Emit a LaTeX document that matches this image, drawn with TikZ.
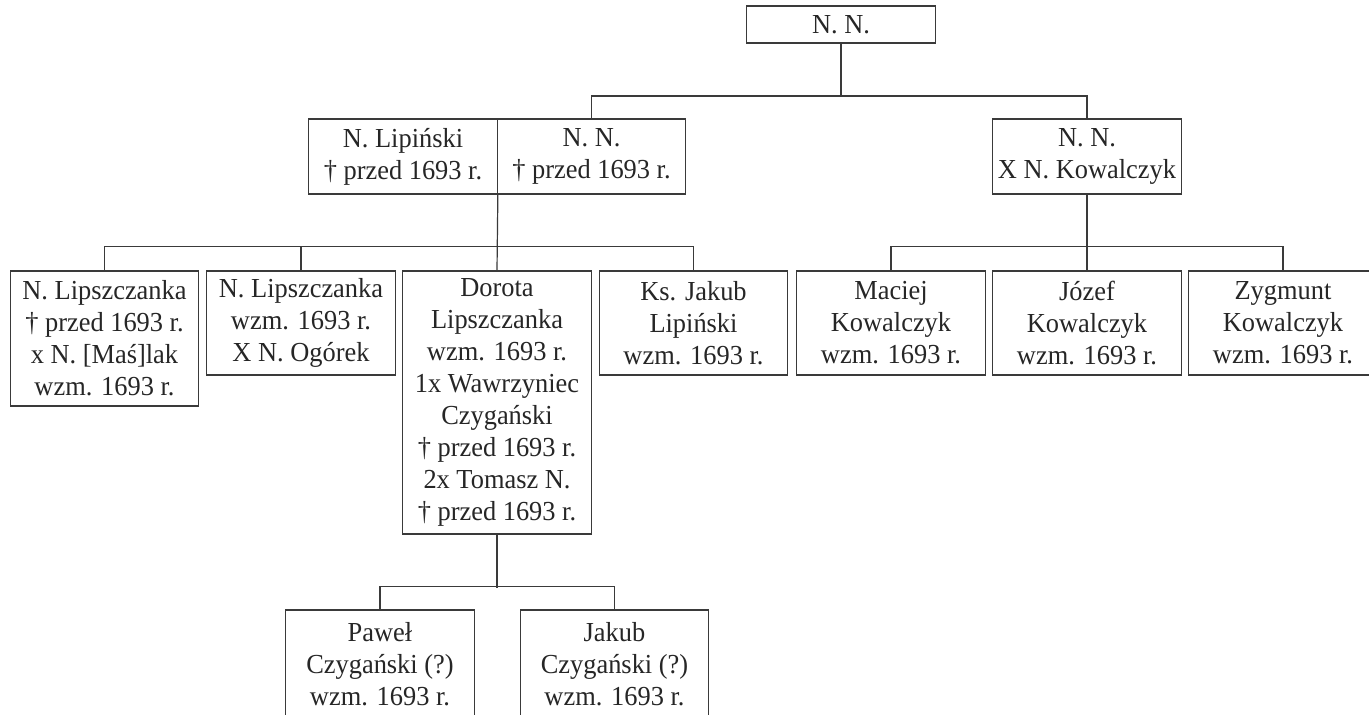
\documentclass[tikz,border=0pt]{standalone}
\usepackage{fontspec}
\setmainfont{Liberation Serif}[FakeStretch=0.96]
\definecolor{linec}{HTML}{3A3A3A}
\definecolor{textc}{HTML}{262626}
\begin{document}
\begin{tikzpicture}[x=1pt,y=-1pt,
  person/.style={draw=linec, line width=1.2pt, fill=white, inner sep=0pt,
    minimum width=188.5pt, align=center, text=textc,
    font={\fontsize{27.5}{32}\selectfont}},
  conn/.style={draw=linec, line width=1.2pt}]
\useasboundingbox[fill=white] (0,0) rectangle (1369,715);
\clip (0,0) rectangle (1369,715);
% generation 0
\node[person, minimum height=37pt] (top) at (841,24.5) {N. N.};
% generation 1
\node[person, minimum height=75pt] (lip) at (403,156.5) {N. Lipiński\\† przed 1693 r.};
\node[person, minimum height=75pt] (nn1) at (591.5,156.5) {N. N.\\† przed 1693 r.};
\node[person, minimum height=75pt] (nn2) at (1087,156.5) {N. N.\\X N. Kowalczyk};
% generation 2
\node[person, minimum height=135pt] (c1) at (104.5,338.5) {N. Lipszczanka\\† przed 1693 r.\\x N. [Maś]lak\\wzm. 1693 r.};
\node[person, minimum height=104pt] (c2) at (301,323) {N. Lipszczanka\\wzm. 1693 r.\\X N. Ogórek};
\node[person, minimum height=263pt] (c3) at (497,402.5) {Dorota\\Lipszczanka\\wzm. 1693 r.\\1x Wawrzyniec\\Czygański\\† przed 1693 r.\\2x Tomasz N.\\† przed 1693 r.};
\node[person, minimum height=104pt] (c4) at (693.5,323) {Ks. Jakub\\Lipiński\\wzm. 1693 r.};
\node[person, minimum height=104pt] (c5) at (891,323) {Maciej\\Kowalczyk\\wzm. 1693 r.};
\node[person, minimum height=104pt] (c6) at (1087,323) {Józef\\Kowalczyk\\wzm. 1693 r.};
\node[person, minimum height=104pt] (c7) at (1283,323) {Zygmunt\\Kowalczyk\\wzm. 1693 r.};
% generation 3 (cut off by the lower edge)
\node[person, minimum height=108pt] (b1) at (380,664) {Paweł\\Czygański (?)\\wzm. 1693 r.};
\node[person, minimum height=108pt] (b2) at (614.5,664) {Jakub\\Czygański (?)\\wzm. 1693 r.};
% connectors
\coordinate (j0) at (841,96);
\draw[conn] (top.south) -- (j0);
\draw[conn] (nn1.north) -- (nn1.north |- j0) -| (nn2.north);
\draw[conn] (lip.south east) -- (c3.north);
\draw[conn] (c1.north) -- ++(0,-24) -| (c4.north);
\draw[conn] (c2.north) -- ++(0,-24);
\draw[conn] (nn2.south) -- (c6.north);
\draw[conn] (c5.north) -- ++(0,-24) -| (c7.north);
\draw[conn] (c3.south) -- ++(0,53);
\draw[conn] (b1.north) -- ++(0,-23) -| (b2.north);
\end{tikzpicture}
\end{document}
